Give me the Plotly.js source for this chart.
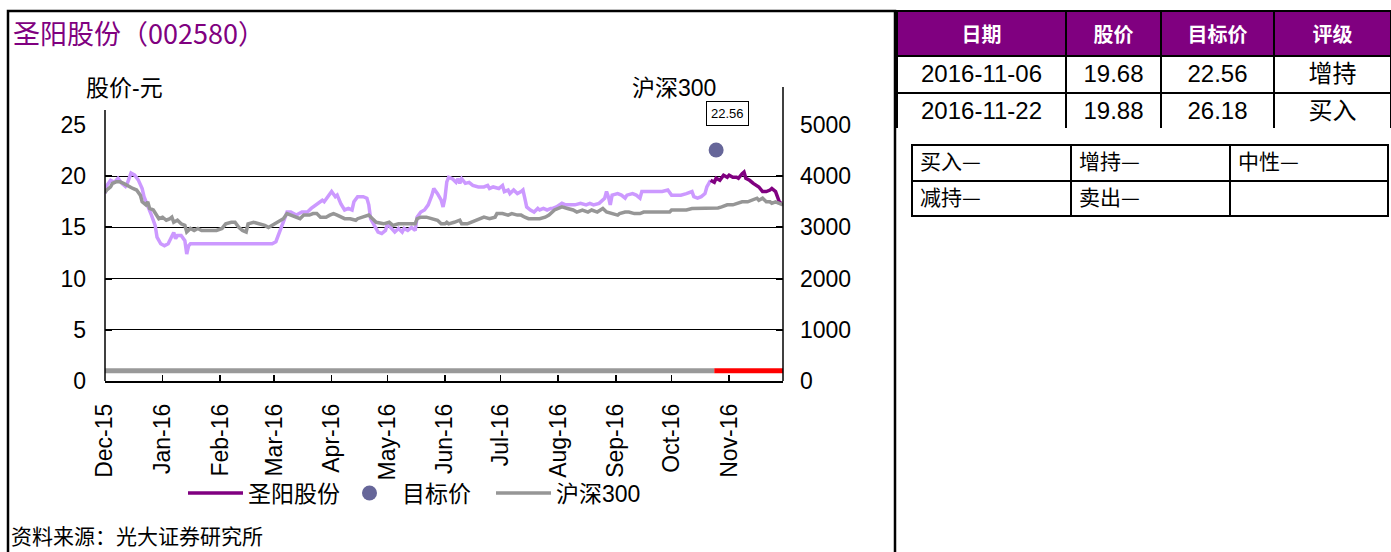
<!DOCTYPE html>
<html>
<head>
<meta charset="utf-8">
<script src="https://cdn.plot.ly/plotly-3.0.1.min.js"></script>
<style>html,body{margin:0;padding:0;background:#fff;}#chart{width:1391px;height:552px;}</style>
</head>
<body>
<div id="chart"></div>
<script>
// ---------- data ----------
const stockDates = [
 '2015-12-01','2015-12-02','2015-12-04','2015-12-06','2015-12-08','2015-12-10','2015-12-12','2015-12-13','2015-12-15','2015-12-17','2015-12-19','2015-12-21','2015-12-22','2015-12-24','2015-12-26','2015-12-28','2015-12-29','2015-12-31',
 '2016-01-02','2016-01-04','2016-01-06','2016-01-07','2016-01-08','2016-01-09','2016-01-11','2016-01-13','2016-01-14','2016-01-15','2016-01-16',
 '2016-02-29',
 '2016-03-02','2016-03-03','2016-03-05','2016-03-07','2016-03-08','2016-03-10','2016-03-13','2016-03-16','2016-03-19','2016-03-21','2016-03-24','2016-03-27','2016-03-28','2016-03-30',
 '2016-04-01','2016-04-03','2016-04-04','2016-04-06','2016-04-08','2016-04-10','2016-04-12','2016-04-13','2016-04-15','2016-04-18','2016-04-20','2016-04-21','2016-04-22','2016-04-24','2016-04-26','2016-04-28','2016-04-30',
 '2016-05-01','2016-05-03','2016-05-05','2016-05-07','2016-05-09','2016-05-10','2016-05-12','2016-05-14','2016-05-16','2016-05-17','2016-05-19','2016-05-21','2016-05-23','2016-05-25','2016-05-26','2016-05-28','2016-05-30','2016-05-31',
 '2016-06-01','2016-06-02','2016-06-03','2016-06-05','2016-06-07','2016-06-08','2016-06-09','2016-06-10','2016-06-12','2016-06-14','2016-06-16','2016-06-19','2016-06-22','2016-06-24','2016-06-25','2016-06-27','2016-06-30',
 '2016-07-02','2016-07-03','2016-07-05','2016-07-06','2016-07-08','2016-07-10','2016-07-12','2016-07-13','2016-07-14','2016-07-15','2016-07-17','2016-07-19','2016-07-21','2016-07-22','2016-07-24','2016-07-26','2016-07-28','2016-07-29','2016-07-31',
 '2016-08-02','2016-08-03','2016-08-05','2016-08-08','2016-08-10','2016-08-13','2016-08-16','2016-08-18','2016-08-20','2016-08-23','2016-08-24','2016-08-26','2016-08-27','2016-08-28','2016-08-29','2016-08-30',
 '2016-09-02','2016-09-04','2016-09-06','2016-09-07','2016-09-10','2016-09-12','2016-09-14','2016-09-15','2016-09-19','2016-09-23','2016-09-26','2016-09-29',
 '2016-10-01','2016-10-04','2016-10-06','2016-10-09','2016-10-12','2016-10-13','2016-10-15','2016-10-17','2016-10-19','2016-10-20','2016-10-22'
];
const stockPrices = [
 18.3,19.1,19.6,19.4,19.8,19.3,19.0,19.3,20.3,20.1,19.6,18.8,18.0,17.2,16.2,15.2,14.05,13.4,
 13.2,13.4,14.05,14.5,13.9,14.2,14.2,13.7,12.4,13.2,13.4,
 13.4,
 13.6,14.1,14.9,15.85,16.5,16.5,16.2,16.5,16.5,16.85,17.2,17.65,17.5,18.0,
 18.5,18.0,18.15,17.3,16.7,16.85,16.7,17.5,18.0,18.0,17.85,17.2,15.85,15.2,14.55,14.4,14.7,
 15.35,15.0,14.55,14.9,14.55,14.9,14.7,15.0,14.7,16.0,16.5,16.7,17.2,18.15,18.8,18.3,17.65,17.0,
 17.85,19.45,19.9,19.75,19.4,19.75,19.3,19.75,19.3,19.4,19.1,18.95,18.95,19.1,18.8,18.95,18.8,
 19.1,18.5,18.65,18.3,18.65,18.3,18.5,18.65,17.85,17.0,16.7,16.5,16.85,16.7,16.85,16.7,16.85,16.85,17.0,
 17.2,17.35,17.2,17.2,17.2,17.35,17.2,17.35,17.2,17.35,17.5,17.85,18.5,18.0,17.2,18.15,
 18.3,18.15,17.85,18.15,18.3,18.15,17.85,18.5,18.5,18.5,18.5,18.65,
 18.15,18.15,18.15,18.3,18.5,18.0,17.85,18.0,18.3,18.95,19.6
];
const ratedDates = [
 '2016-10-22','2016-10-24','2016-10-25','2016-10-27','2016-10-29','2016-10-31',
 '2016-11-01','2016-11-03','2016-11-05','2016-11-06','2016-11-08','2016-11-09','2016-11-10','2016-11-12','2016-11-14','2016-11-16','2016-11-17','2016-11-19','2016-11-21','2016-11-23','2016-11-24','2016-11-26','2016-11-27','2016-11-28','2016-11-29'
];
const ratedPrices = [
 19.6,19.4,19.8,19.6,20.1,19.9,
 20.1,19.9,19.9,19.8,20.25,20.4,19.8,19.6,19.3,19.1,18.95,18.5,18.5,18.65,18.8,18.5,17.85,17.5,17.35
];
const hsDates = [
 '2015-12-01','2015-12-02','2015-12-04','2015-12-05','2015-12-07','2015-12-09','2015-12-11','2015-12-13','2015-12-14','2015-12-16','2015-12-18','2015-12-20','2015-12-21','2015-12-23','2015-12-24','2015-12-25','2015-12-27','2015-12-29','2015-12-30',
 '2016-01-01','2016-01-03','2016-01-05','2016-01-06','2016-01-07','2016-01-09','2016-01-11','2016-01-13','2016-01-14','2016-01-16','2016-01-18','2016-01-20','2016-01-22','2016-01-26','2016-01-30',
 '2016-02-02','2016-02-04','2016-02-07','2016-02-09','2016-02-11','2016-02-13','2016-02-15','2016-02-16','2016-02-19','2016-02-22','2016-02-25','2016-02-27','2016-02-29',
 '2016-03-03','2016-03-06','2016-03-08','2016-03-10','2016-03-13','2016-03-15','2016-03-17','2016-03-20','2016-03-22','2016-03-24','2016-03-26','2016-03-29','2016-03-31',
 '2016-04-02','2016-04-04','2016-04-07','2016-04-08','2016-04-11','2016-04-14','2016-04-15','2016-04-18','2016-04-21','2016-04-23','2016-04-25','2016-04-29',
 '2016-05-02','2016-05-04','2016-05-07','2016-05-10','2016-05-13','2016-05-16','2016-05-17','2016-05-19','2016-05-22','2016-05-25','2016-05-28','2016-05-30',
 '2016-06-01','2016-06-02','2016-06-03','2016-06-06','2016-06-09','2016-06-10','2016-06-13','2016-06-15','2016-06-18','2016-06-21','2016-06-22','2016-06-25','2016-06-28','2016-06-29',
 '2016-07-02','2016-07-05','2016-07-07','2016-07-10','2016-07-12','2016-07-14','2016-07-16','2016-07-19','2016-07-22','2016-07-25','2016-07-27','2016-07-30',
 '2016-08-01','2016-08-03','2016-08-06','2016-08-09','2016-08-11','2016-08-14','2016-08-17','2016-08-19','2016-08-22','2016-08-25','2016-08-27','2016-08-30',
 '2016-09-02','2016-09-03','2016-09-06','2016-09-08','2016-09-11','2016-09-14','2016-09-16','2016-09-22','2016-09-27','2016-09-30',
 '2016-10-01','2016-10-07','2016-10-09','2016-10-12','2016-10-17','2016-10-20','2016-10-23','2016-10-26','2016-10-28','2016-10-31',
 '2016-11-03','2016-11-05','2016-11-08','2016-11-11','2016-11-13','2016-11-16','2016-11-17','2016-11-19','2016-11-21','2016-11-23','2016-11-24','2016-11-26','2016-11-28','2016-11-30'
];
const hsValues = [
 3680,3730,3790,3860,3890,3890,3860,3820,3790,3760,3730,3630,3500,3440,3500,3370,3340,3240,3170,
 3200,3140,3170,3200,3100,3140,3070,3040,2910,2980,2940,2980,2940,2940,2940,
 2980,3070,3100,3100,3000,2940,2910,3070,3100,3070,3040,3000,3040,
 3100,3170,3270,3240,3200,3170,3240,3240,3270,3270,3200,3200,3240,
 3270,3240,3200,3170,3170,3140,3170,3200,3240,3170,3100,3070,
 3100,3040,3070,3070,3070,3070,3170,3200,3200,3170,3140,3070,
 3070,3100,3070,3100,3140,3070,3070,3100,3140,3170,3200,3170,3200,3270,
 3270,3240,3270,3240,3240,3200,3170,3170,3170,3200,3240,3340,
 3370,3400,3370,3340,3300,3340,3300,3340,3300,3370,3300,3270,
 3240,3270,3300,3300,3270,3270,3300,3300,3300,3300,
 3340,3340,3340,3370,3370,3380,3370,3380,3400,3440,
 3440,3470,3500,3500,3530,3570,3530,3570,3500,3500,3470,3500,3470,3440
];
const targetDates = ['2016-10-25'];
const targetPrices = [22.56];
const noRatingDates = ['2015-12-01','2016-10-24'];
const noRatingLevel = [1,1];
const ratingDates = ['2016-10-24','2016-11-30'];
const ratingLevel = [1,1];

const monthTicks = ['2015-12-01','2016-01-01','2016-02-01','2016-03-01','2016-04-01','2016-05-01','2016-06-01','2016-07-01','2016-08-01','2016-09-01','2016-10-01','2016-11-01'];
const monthLabels = ['Dec-15','Jan-16','Feb-16','Mar-16','Apr-16','May-16','Jun-16','Jul-16','Aug-16','Sep-16','Oct-16','Nov-16'];
const priceTicks = [0,5,10,15,20,25];
const indexTicks = [0,1000,2000,3000,4000,5000];

const tableHeaders = ['日期','股价','目标价','评级'];
const tableDates = ['2016-11-06','2016-11-22'];
const tablePrices = ['19.68','19.88'];
const tableTargets = ['22.56','26.18'];
const tableRatings = ['增持','买入'];
const ratingKeyRow1 = ['买入—','增持—','中性—'];
const ratingKeyRow2 = ['减持—','卖出—',''];

// ---------- layout helpers ----------
const W = 1391, H = 552;
const px = x => x / W;
const py = y => 1 - y / H;
const FONT = 'Arial, "Liberation Sans", "Noto Sans CJK SC", sans-serif';
const CJK = '"Noto Sans CJK SC", "Liberation Sans", sans-serif';
const TICK = 23;

const traces = [
  {x: noRatingDates, y: noRatingLevel, type:'scatter', mode:'lines', line:{color:'#999999', width:5}, showlegend:false, hoverinfo:'skip'},
  {x: ratingDates, y: ratingLevel, type:'scatter', mode:'lines', line:{color:'#FF0000', width:5}, showlegend:false, hoverinfo:'skip'},
  {x: stockDates, y: stockPrices, type:'scatter', mode:'lines', line:{color:'#CC99FF', width:3.5}, showlegend:false},
  {x: ratedDates, y: ratedPrices, type:'scatter', mode:'lines', name:'圣阳股份', line:{color:'#800080', width:3.5}, legendrank:1},
  {x: targetDates, y: targetPrices, type:'scatter', mode:'markers', name:'目标价', marker:{color:'#666699', size:15}, legendrank:2},
  {x: hsDates, y: hsValues, type:'scatter', mode:'lines', name:'沪深300', yaxis:'y2', line:{color:'#969696', width:3.5}, legendrank:3},
  {type:'table', domain:{x:[px(897), 1], y:[py(128), py(11)]},
   columnwidth:[169,95,113,117],
   header:{values: tableHeaders.map(h => '<b>' + h + '</b>'), fill:{color:'#800080'}, font:{family:CJK, size:20, color:'#fff'}, height:35, align:'center', line:{color:'#000', width:2}},
   cells:{values:[tableDates, tablePrices, tableTargets, tableRatings], fill:{color:'#fff'}, font:{family:FONT, size:24, color:'#000'}, height:37, align:'center', line:{color:'#000', width:2}}},
  {type:'table', domain:{x:[px(912), px(1389)], y:[py(222), py(145)]},
   columnwidth:[159,159,158],
   header:{values: ratingKeyRow1, fill:{color:'#fff'}, font:{family:CJK, size:21, color:'#000'}, height:36, align:'left', line:{color:'#000', width:2}},
   cells:{values: ratingKeyRow2.map(v => [v]), fill:{color:'#fff'}, font:{family:CJK, size:21, color:'#000'}, height:35, align:'left', line:{color:'#000', width:2}}}
];

const layout = {
  width: W, height: H,
  margin:{l:0, r:0, t:0, b:0},
  paper_bgcolor:'#fff', plot_bgcolor:'#fff',
  font:{family:FONT, color:'#000', size:TICK},
  showlegend:true,
  legend:{orientation:'h', x:px(183), y:py(493), xanchor:'left', yanchor:'middle',
    font:{family:FONT, size:23, color:'#000'}, bgcolor:'rgba(0,0,0,0)', traceorder:'normal',
    itemwidth:55, entrywidth:84, entrywidthmode:'pixels'},
  xaxis:{type:'date', domain:[px(105), px(783)], range:['2015-12-01','2016-11-30'],
    tickmode:'array', tickvals:monthTicks, ticktext:monthLabels, tickangle:-90,
    ticks:'inside', ticklen:6, tickwidth:1.5, tickcolor:'#000',
    showline:true, linecolor:'#000', linewidth:1.5, showgrid:false, zeroline:false,
    tickfont:{family:FONT, size:TICK, color:'#000'}, ticklabelstandoff:12, fixedrange:true},
  yaxis:{domain:[py(381), py(125)], range:[0,25], tickmode:'array', tickvals:priceTicks,
    ticks:'inside', ticklen:7, tickwidth:2, tickcolor:'#000',
    showgrid:true, gridcolor:'#000', gridwidth:1, showline:false, zeroline:false,
    tickfont:{family:FONT, size:TICK, color:'#000'}, ticklabelstandoff:18, fixedrange:true},
  yaxis2:{overlaying:'y', side:'right', anchor:'x', range:[0,5000], tickmode:'array', tickvals:indexTicks,
    ticks:'inside', ticklen:7, tickwidth:2, tickcolor:'#000',
    showgrid:false, showline:false, zeroline:false,
    tickfont:{family:FONT, size:TICK, color:'#000'}, ticklabelstandoff:16, fixedrange:true},
  shapes:[
    {type:'rect', xref:'paper', yref:'paper', x0:px(8), x1:px(895), y0:py(560), y1:py(11), line:{color:'#000', width:2.5}, layer:'below'},
    {type:'line', xref:'paper', yref:'paper', x0:px(105), x1:px(105), y0:py(381), y1:py(110), line:{color:'#000', width:1.5}},
    {type:'line', xref:'paper', yref:'paper', x0:px(783), x1:px(783), y0:py(381), y1:py(87), line:{color:'#000', width:1.5}}
  ],
  annotations:[
    {xref:'paper', yref:'paper', x:px(11), y:py(32), xanchor:'left', yanchor:'middle', showarrow:false,
     text:'圣阳股份（002580）', font:{family:CJK, size:27, color:'#800080'}},
    {xref:'paper', yref:'paper', x:px(125), y:py(88), xanchor:'center', yanchor:'middle', showarrow:false,
     text:'股价-元', font:{family:FONT, size:23, color:'#000'}},
    {xref:'paper', yref:'paper', x:px(674), y:py(88), xanchor:'center', yanchor:'middle', showarrow:false,
     text:'沪深300', font:{family:FONT, size:23, color:'#000'}},
    {x:targetDates[0], y:targetPrices[0], xref:'x', yref:'y', showarrow:false, xshift:11, yshift:36,
     text:String(targetPrices[0]), font:{family:FONT, size:13, color:'#000'}, bgcolor:'#fff', bordercolor:'#000', borderwidth:1, borderpad:4},
    {xref:'paper', yref:'paper', x:px(9), y:py(535), xanchor:'left', yanchor:'middle', showarrow:false,
     text:'资料来源：光大证券研究所', font:{family:CJK, size:21, color:'#000'}}
  ]
};

Plotly.newPlot('chart', traces, layout, {displayModeBar:false, staticPlot:true});
</script>
</body>
</html>
